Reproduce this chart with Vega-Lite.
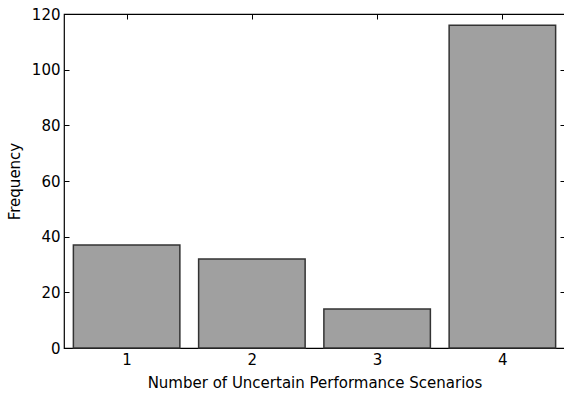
{
  "$schema": "https://vega.github.io/schema/vega-lite/v6.json",
  "width": 501,
  "height": 334,
  "autosize": {"type": "none"},
  "padding": {"left": 64, "top": 14, "right": 0, "bottom": 48},
  "config": {
    "view": {"stroke": "#000", "strokeWidth": 1.2},
    "font": "DejaVu Sans",
    "axis": {"domain": false, "grid": false, "tickColor": "#000", "labelColor": "#000", "titleColor": "#000", "labelFontSize": 15, "titleFontSize": 15, "titleFontWeight": "normal", "labelFont": "DejaVu Sans", "titleFont": "DejaVu Sans"}
  },
  "data": {"values": [
    {"scenarios": 1, "frequency": 37},
    {"scenarios": 2, "frequency": 32},
    {"scenarios": 3, "frequency": 14},
    {"scenarios": 4, "frequency": 116}
  ]},
  "resolve": {"axis": {"x": "independent", "y": "independent"}},
  "layer": [
    {
      "mark": {"type": "bar", "width": 106.5, "color": "#a0a0a0", "stroke": "#333333", "strokeWidth": 1.5},
      "encoding": {
        "x": {"field": "scenarios", "type": "quantitative",
          "scale": {"domain": [0.5, 4.5], "nice": false, "zero": false, "padding": 0},
          "axis": {"values": [1, 2, 3, 4], "tickSize": -5, "labelPadding": 9, "title": "Number of Uncertain Performance Scenarios", "titlePadding": 8}},
        "y": {"field": "frequency", "type": "quantitative",
          "scale": {"domain": [0, 120], "nice": false},
          "axis": {"values": [0, 20, 40, 60, 80, 100, 120], "tickSize": -5, "labelPadding": 9, "title": "Frequency", "titlePadding": 9}}
      }
    },
    {
      "mark": {"type": "point", "opacity": 0},
      "encoding": {
        "x": {"field": "scenarios", "type": "quantitative",
          "axis": {"orient": "top", "values": [1, 2, 3, 4], "tickSize": -5, "labels": false, "title": null}},
        "y": {"field": "frequency", "type": "quantitative",
          "axis": {"orient": "right", "values": [0, 20, 40, 60, 80, 100, 120], "tickSize": -5, "labels": false, "title": null}}
      }
    }
  ]
}
